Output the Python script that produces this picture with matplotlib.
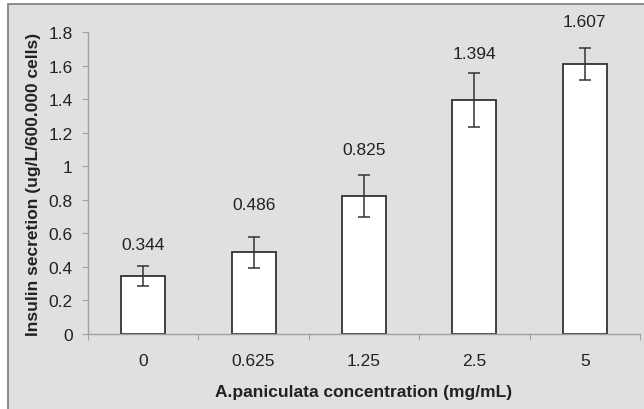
import numpy as np
import matplotlib
matplotlib.use("Agg")
import matplotlib.pyplot as plt
from matplotlib.patches import Rectangle

concentrations = ["0", "0.625", "1.25", "2.5", "5"]
insulin = [0.344, 0.486, 0.825, 1.394, 1.607]
errors = [0.06, 0.09, 0.125, 0.16, 0.095]
value_labels = ["0.344", "0.486", "0.825", "1.394", "1.607"]
# distance of each value label above its error bar (points)
label_offsets = [15.8, 23.8, 18.0, 14.4, 19.4]

y_ticks = [0, 0.2, 0.4, 0.6, 0.8, 1, 1.2, 1.4, 1.6, 1.8]
y_tick_labels = ["0", "0.2", "0.4", "0.6", "0.8", "1", "1.2", "1.4", "1.6", "1.8"]

plt.rcParams['font.family'] = ['Liberation Sans', 'DejaVu Sans']

bg = '#e0e0e0'
text_col = '#222222'
axis_col = '#a0a0a0'

fig = plt.figure(figsize=(6.44, 4.10), dpi=100)
fig.patch.set_facecolor('white')

# grey chart area with a border (picture is cropped on the right and bottom)
frame = Rectangle((8 / 644, -0.1), 1.2, 1.0878, transform=fig.transFigure,
                  facecolor=bg, edgecolor='#7a7a7a', linewidth=1.2, zorder=-10)
fig.patches.append(frame)

ax = fig.add_axes([88 / 644, 75 / 410, 552 / 644, 302 / 410])
ax.set_facecolor(bg)

x = np.arange(len(concentrations))
ax.bar(x, insulin, width=0.4, color='white', edgecolor='#333333',
       linewidth=1.3, zorder=2)
ax.errorbar(x, insulin, yerr=errors, fmt='none', ecolor='#333333',
            elinewidth=1.1, capsize=4.5, capthick=1.1, zorder=3)

for xi, val, err, lab, off in zip(x, insulin, errors, value_labels, label_offsets):
    ax.annotate(lab, (xi, val + err), xytext=(0, off), textcoords='offset points',
                ha='center', va='center', fontsize=12.5, color=text_col,
                annotation_clip=False)

ax.set_xlim(-0.5, len(concentrations) - 0.5)
ax.set_ylim(0, 1.8)
ax.set_yticks(y_ticks)
ax.set_yticklabels(y_tick_labels)

# category labels centred under bars, ticks between categories
ax.set_xticks(np.arange(len(concentrations) + 1) - 0.5)
ax.set_xticklabels([])
ax.set_xticks(x, minor=True)
ax.set_xticklabels(concentrations, minor=True)
ax.tick_params(axis='x', which='minor', length=0, pad=13.5,
               labelsize=12.5, labelcolor=text_col)
ax.tick_params(axis='x', which='major', length=4, color=axis_col, direction='out')
ax.tick_params(axis='y', length=4, color=axis_col, direction='out', pad=7,
               labelsize=12.5, labelcolor=text_col)

for side in ['top', 'right']:
    ax.spines[side].set_visible(False)
for side in ['left', 'bottom']:
    ax.spines[side].set_color(axis_col)
    ax.spines[side].set_linewidth(1.0)

ax.set_xlabel("A.paniculata concentration (mg/mL)", fontsize=12.5,
              fontweight='bold', color=text_col, va='center')
ax.set_ylabel("Insulin secretion (ug/L/600.000 cells)", fontsize=12.5,
              fontweight='bold', color=text_col, va='center')
ax.xaxis.set_label_coords(0.5, -0.192)
ax.yaxis.set_label_coords(-0.0996, 0.5)

fig.savefig("out.png", dpi=100, facecolor=fig.get_facecolor())
